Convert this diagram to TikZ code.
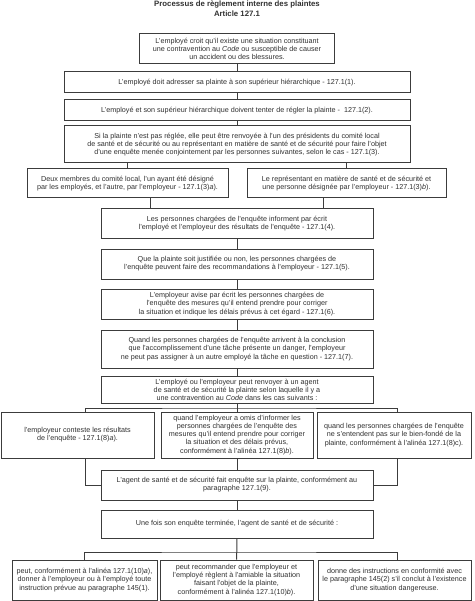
\documentclass[tikz,border=0pt]{standalone}
\usepackage{fontspec}
\setmainfont{Liberation Sans}
\usepackage{tikz}
\usetikzlibrary{positioning,calc}
\definecolor{ink}{HTML}{303030}
\definecolor{edge}{HTML}{3C3C3C}

\begin{document}
\begin{tikzpicture}[x=1pt,y=-1pt,
 n/.style={draw=edge,fill=white,line width=1pt,align=center,text=ink,font=\fontsize{7.2}{8.1}\selectfont,inner sep=1pt},
 a/.style={draw=edge,line width=1pt}]
\useasboundingbox (0,0) rectangle (474,601);
\node[align=center,text=ink,font=\bfseries\fontsize{7.8}{10}\selectfont] (title) at (237,9) {Processus de règlement interne des plaintes\\Article 127.1};
\node[n,minimum width=195pt,minimum height=30pt] (b1) at (237,49) {L'employé croit qu'il existe une situation constituant\\une contravention au \textit{Code} ou susceptible de causer\\un accident ou des blessures.};
\node[n,minimum width=346pt,minimum height=21pt] (b2) at (237,82.5) {L'employé doit adresser sa plainte à son supérieur hiérarchique - 127.1(1).};
\node[n,minimum width=346pt,minimum height=21pt] (b3) at (237,110.5) {L'employé et son supérieur hiérarchique doivent tenter de régler la plainte -~~127.1(2).};
\node[n,minimum width=346pt,minimum height=37pt] (b4) at (237,144.5) {Si la plainte n'est pas réglée, elle peut être renvoyée à l'un des présidents du comité local\\de santé et de sécurité ou au représentant en matière de santé et de sécurité pour faire l'objet\\d'une enquête menée conjointement par les personnes suivantes, selon le cas - 127.1(3).};
\node[n,minimum width=201pt,minimum height=29pt] (b5a) at (127.5,183.5) {Deux membres du comité local, l'un ayant été désigné\\par les employés, et l'autre, par l'employeur - 127.1(3)\textit{a}).};
\node[n,minimum width=199pt,minimum height=29pt] (b5b) at (346.5,183.5) {Le représentant en matière de santé et de sécurité et\\une personne désignée par l'employeur - 127.1(3)\textit{b}).};
\node[n,minimum width=272pt,minimum height=30pt] (b6) at (237,224) {Les personnes chargées de l'enquête informent par écrit\\l'employé et l'employeur des résultats de l'enquête - 127.1(4).};
\node[n,minimum width=272pt,minimum height=30pt] (b7) at (237,264) {Que la plainte soit justifiée ou non, les personnes chargées de\\l'enquête peuvent faire des recommandations à l'employeur - 127.1(5).};
\node[n,minimum width=272pt,minimum height=30pt] (b8) at (237,304) {L'employeur avise par écrit les personnes chargées de\\l'enquête des mesures qu'il entend prendre pour corriger\\la situation et indique les délais prévus à cet égard - 127.1(6).};
\node[n,minimum width=272pt,minimum height=38pt] (b9) at (237,349) {Quand les personnes chargées de l'enquête arrivent à la conclusion\\que l'accomplissement d'une tâche présente un danger, l'employeur\\ne peut pas assigner à un autre employé la tâche en question - 127.1(7).};
\node[n,minimum width=272pt,minimum height=27pt] (b10) at (237,389.5) {L'employé ou l'employeur peut renvoyer à un agent\\de santé et de sécurité la plainte selon laquelle il y a\\une contravention au \textit{Code} dans les cas suivants :};
\node[n,minimum width=153pt,minimum height=46pt] (b11a) at (77.5,435) {l'employeur conteste les résultats\\de l'enquête - 127.1(8)\textit{a}).};
\node[n,minimum width=152pt,minimum height=46pt] (b11b) at (237,435) {quand l'employeur a omis d'informer les\\personnes chargées de l'enquête des\\mesures qu'il entend prendre pour corriger\\la situation et des délais prévus,\\conformément à l'alinéa 127.1(8)\textit{b}).};
\node[n,minimum width=154pt,minimum height=46pt] (b11c) at (394,435) {quand les personnes chargées de l'enquête\\ne s'entendent pas sur le bien-fondé de la\\plainte, conformément à l'alinéa 127.1(8)c).};
\node[n,minimum width=272pt,minimum height=30pt] (b12) at (237,485) {L'agent de santé et de sécurité fait enquête sur la plainte, conformément au\\paragraphe 127.1(9).};
\node[n,minimum width=272pt,minimum height=28pt] (b13) at (237,524) {Une fois son enquête terminée, l'agent de santé et de sécurité :};
\node[n,minimum width=145pt,minimum height=40pt] (b14a) at (84.5,580) {peut, conformément à l'alinéa 127.1(10)\textit{a}),\\donner à l'employeur ou à l'employé toute\\instruction prévue au paragraphe 145(1).};
\node[n,minimum width=153pt,minimum height=40pt] (b14b) at (236.5,580) {peut recommander que l'employeur et\\l'employé règlent à l'amiable la situation\\faisant l'objet de la plainte,\\conformément à l'alinéa 127.1(10)\textit{b}).};
\node[n,minimum width=153pt,minimum height=40pt] (b14c) at (394.5,580) {donne des instructions en conformité avec\\le paragraphe 145(2) s'il conclut à l'existence\\d'une situation dangereuse.};
\coordinate (s1) at (237,408);
\coordinate (s2) at (237,552);
% main column
\draw[a] (b1)--(b2);\draw[a] (b2)--(b3);\draw[a] (b3)--(b4);
\draw[a] (b5a.north)--(b5a.north |- b4.south);\draw[a] (b5b.north)--(b5b.north |- b4.south);
\draw[a] ([xshift=50pt]b6.north west)--([xshift=50pt]b6.north west |- b5a.south);
\draw[a] ([xshift=-50pt]b6.north east)--([xshift=-50pt]b6.north east |- b5b.south);
\draw[a] (b6)--(b7);\draw[a] (b7)--(b8);\draw[a] (b8)--(b9);\draw[a] (b9)--(b10);
% referral cases
\draw[a] (b10)--(b11b);
\draw[a] ([xshift=7.5pt]b11a.north) |- (s1) -| ([xshift=3pt]b11c.north);
\draw[a] ([xshift=7.5pt]b11a.south) |- (b12.west);
\draw[a] ([xshift=3pt]b11c.south) |- (b12.east);
\draw[a] (b11b)--(b12);\draw[a] (b12)--(b13);
% outcomes
\draw[a] (b13)--(b14b);
\draw[a] (b14a.north) |- (s2) -| ([xshift=2.5pt]b14c.north);
\end{tikzpicture}
\end{document}
